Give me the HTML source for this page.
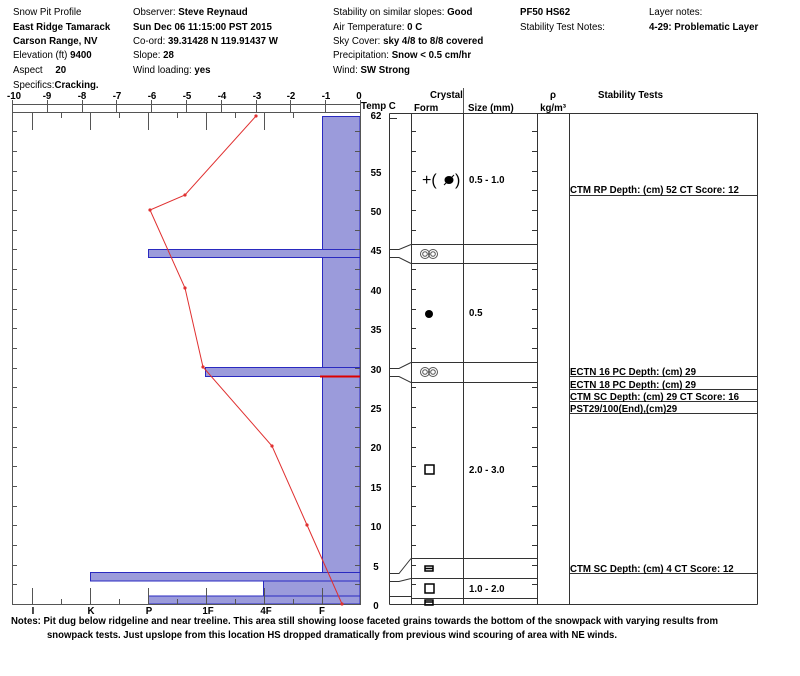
<!DOCTYPE html>
<html><head><meta charset="utf-8"><style>
body{margin:0;background:#fff}
svg{display:block}
text{font-family:"Liberation Sans",Arial,sans-serif;font-size:9.7px;fill:#000}
.b{font-weight:bold}
</style></head><body>
<svg width="800" height="676" viewBox="0 0 800 676" xmlns="http://www.w3.org/2000/svg">
<!-- header -->
<text x="13" y="15">Snow Pit Profile</text>
<text x="13" y="30" class="b">East Ridge Tamarack</text>
<text x="13" y="44" class="b">Carson Range, NV</text>
<text x="13" y="58">Elevation (ft)  <tspan class="b">9400</tspan></text>
<text x="13" y="73">Aspect   <tspan class="b" dx="10">20</tspan></text>
<text x="13" y="88">Specifics:<tspan class="b">Cracking.</tspan></text>
<text x="133" y="15">Observer:  <tspan class="b">Steve Reynaud</tspan></text>
<text x="133" y="30" class="b">Sun Dec 06 11:15:00 PST 2015</text>
<text x="133" y="44">Co-ord:  <tspan class="b">39.31428 N 119.91437 W</tspan></text>
<text x="133" y="58">Slope:  <tspan class="b">28</tspan></text>
<text x="133" y="73">Wind loading:  <tspan class="b">yes</tspan></text>
<text x="333" y="15">Stability on similar slopes:  <tspan class="b">Good</tspan></text>
<text x="333" y="30">Air Temperature:  <tspan class="b">0 C</tspan></text>
<text x="333" y="44">Sky Cover:  <tspan class="b">sky 4/8 to 8/8 covered</tspan></text>
<text x="333" y="58">Precipitation:  <tspan class="b">Snow &lt; 0.5 cm/hr</tspan></text>
<text x="333" y="73">Wind:  <tspan class="b">SW Strong</tspan></text>
<text x="520" y="15" class="b">PF50 HS62</text>
<text x="520" y="30">Stability Test Notes:</text>
<text x="649" y="15">Layer notes:</text>
<text x="649" y="30" class="b">4-29: Problematic Layer</text>

<!-- top temp axis -->
<g stroke="#555" stroke-width="1" fill="none">
<line x1="12" y1="104.5" x2="360" y2="104.5"/>
<line x1="12" y1="112.5" x2="360" y2="112.5"/>
<path d="M12.5 100V113M47.5 100V113M82.5 100V113M116.5 100V113M151.5 100V113M186.5 100V113M221.5 100V113M256.5 100V113M290.5 100V113M325.5 100V113M360.5 100V113"/>
</g>
<g class="b" text-anchor="middle">
<text x="14" y="99" class="b">-10</text><text x="47" y="99" class="b">-9</text><text x="82" y="99" class="b">-8</text><text x="117" y="99" class="b">-7</text><text x="152" y="99" class="b">-6</text><text x="187" y="99" class="b">-5</text><text x="222" y="99" class="b">-4</text><text x="257" y="99" class="b">-3</text><text x="291" y="99" class="b">-2</text><text x="326" y="99" class="b">-1</text><text x="359" y="99" class="b">0</text>
</g>
<text x="361" y="109" class="b">Temp C</text>

<!-- bars -->
<g fill="#9b9bdb" stroke="#2a2ac0" stroke-width="1">
<rect x="322.5" y="116.5" width="37.5" height="456"/>
<rect x="148.5" y="249.5" width="211.5" height="8"/>
<rect x="205.5" y="367.5" width="154.5" height="9"/>
<rect x="90.5" y="572.5" width="269.5" height="8.5"/>
<rect x="263.5" y="581" width="96.5" height="15"/>
<rect x="148.5" y="596" width="211.5" height="8"/>
</g>
<line x1="320" y1="376.5" x2="360" y2="376.5" stroke="#d00" stroke-width="2"/>

<!-- plot frame -->
<g stroke="#555" fill="none">
<path d="M12.5 112.5V604.5H360.5V112.5"/>
<path d="M32.5 113V130M90.5 113V130M148.5 113V130M206.5 113V130M264.5 113V130M61.5 113V118M119.5 113V118M177.5 113V118M235.5 113V118M293.5 113V118"/>
<path d="M32.5 604V588M90.5 604V588M148.5 604V588M206.5 604V588M264.5 604V588M322.5 604V588M61.5 604V599M119.5 604V599M177.5 604V599M235.5 604V599M293.5 604V599"/>
<path d="M12 131.5h5M12 151.5h5M12 171.5h5M12 190.5h5M12 210.5h5M12 230.5h5M12 249.5h5M12 269.5h5M12 289.5h5M12 309.5h5M12 328.5h5M12 348.5h5M12 368.5h5M12 387.5h5M12 407.5h5M12 427.5h5M12 447.5h5M12 466.5h5M12 486.5h5M12 506.5h5M12 525.5h5M12 545.5h5M12 565.5h5M12 584.5h5"/>
<path d="M355 131.5h5M355 151.5h5M355 171.5h5M355 190.5h5M355 210.5h5M355 230.5h5M355 249.5h5M355 269.5h5M355 289.5h5M355 309.5h5M355 328.5h5M355 348.5h5M355 368.5h5M355 387.5h5M355 407.5h5M355 427.5h5M355 447.5h5M355 466.5h5M355 486.5h5M355 506.5h5M355 525.5h5M355 545.5h5M355 565.5h5M355 584.5h5"/>
</g>

<!-- temp profile -->
<polyline fill="none" stroke="#e03030" stroke-width="1" points="256,116 185,195 150,210 185,288 203,367 272,446 307,525 342,604"/>
<g fill="#e03030"><circle cx="256" cy="116" r="1.6"/><circle cx="185" cy="195" r="1.6"/><circle cx="150" cy="210" r="1.6"/><circle cx="185" cy="288" r="1.6"/><circle cx="203" cy="367" r="1.6"/><circle cx="272" cy="446" r="1.6"/><circle cx="307" cy="525" r="1.6"/><circle cx="342" cy="604" r="1.6"/></g>

<!-- hardness labels -->
<g class="b" text-anchor="middle">
<text x="33" y="614" class="b">I</text><text x="91" y="614" class="b">K</text><text x="149" y="614" class="b">P</text><text x="208" y="614" class="b">1F</text><text x="266" y="614" class="b">4F</text><text x="322" y="614" class="b">F</text>
</g>

<!-- depth labels -->
<g text-anchor="middle" class="b">
<text x="376" y="119" class="b">62</text>
<text x="376" y="176" class="b">55</text><text x="376" y="215" class="b">50</text><text x="376" y="254" class="b">45</text><text x="376" y="294" class="b">40</text><text x="376" y="333" class="b">35</text><text x="376" y="373" class="b">30</text><text x="376" y="412" class="b">25</text><text x="376" y="451" class="b">20</text><text x="376" y="491" class="b">15</text><text x="376" y="530" class="b">10</text><text x="376" y="570" class="b">5</text><text x="376" y="609" class="b">0</text>
</g>

<!-- column headers -->
<text x="430" y="98" class="b">Crystal</text>
<line x1="463.5" y1="88" x2="463.5" y2="113" stroke="#555"/>
<text x="414" y="111" class="b">Form</text>
<text x="468" y="111" class="b">Size (mm)</text>
<text x="553" y="98" class="b" text-anchor="middle">ρ</text>
<text x="553" y="111" class="b" text-anchor="middle">kg/m³</text>
<text x="598" y="98" class="b">Stability Tests</text>

<!-- table -->
<g stroke="#333" fill="none" stroke-width="1">
<path d="M389.5 113.5H757.5V604.5M389.5 113.5V604.5M411.5 113.5V604.5M463.5 113.5V604.5M537.5 113.5V604.5M569.5 113.5V604.5M389.5 604.5H757.5"/>
<path d="M411 244.5H537M411 263.5H537M411 362.5H537M411 382.5H537M411 558.5H537M411 578.5H537M411 598.5H537"/>
<path d="M389 249.5H399L411 244.5M389 257.5H399L411 263.5M389 368.5H399L411 362.5M389 376.5H399L411 382.5M389 573.5H399L411 558.5M389 581.5H399L411 578.5M389 596.5H411"/>
<path d="M569 195.5H757M569 376.5H757M569 389.5H757M569 401.5H757M569 413.5H757M569 573.5H757"/>
<path d="M411 131.5h5M411 151.5h5M411 171.5h5M411 190.5h5M411 210.5h5M411 230.5h5M411 269.5h5M411 289.5h5M411 309.5h5M411 328.5h5M411 348.5h5M411 387.5h5M411 407.5h5M411 427.5h5M411 447.5h5M411 466.5h5M411 486.5h5M411 506.5h5M411 525.5h5M411 545.5h5M411 565.5h5M411 584.5h5"/>
<path d="M532 131.5h5M532 151.5h5M532 171.5h5M532 190.5h5M532 210.5h5M532 230.5h5M532 269.5h5M532 289.5h5M532 309.5h5M532 328.5h5M532 348.5h5M532 387.5h5M532 407.5h5M532 427.5h5M532 447.5h5M532 466.5h5M532 486.5h5M532 506.5h5M532 525.5h5M532 545.5h5M532 565.5h5M532 584.5h5"/>
<path d="M389 118.5h8"/>
</g>

<!-- crystal forms -->
<text x="422" y="185" style="font-size:16px">+(</text>
<ellipse cx="449" cy="180" rx="4.5" ry="4" fill="#000"/>
<line x1="444" y1="185" x2="454" y2="175" stroke="#000"/>
<text x="455" y="185" style="font-size:16px">)</text>
<text x="469" y="183" class="b">0.5 - 1.0</text>
<g fill="none" stroke="#555"><circle cx="425" cy="254" r="4.5"/><circle cx="433" cy="254" r="4.5"/><circle cx="425" cy="254" r="2.3"/><circle cx="433" cy="254" r="2.3"/>
<circle cx="425" cy="372" r="4.5"/><circle cx="433" cy="372" r="4.5"/><circle cx="425" cy="372" r="2.3"/><circle cx="433" cy="372" r="2.3"/></g>
<circle cx="429" cy="314" r="4" fill="#000"/>
<text x="469" y="316" class="b">0.5</text>
<rect x="425" y="465" width="9" height="9" fill="none" stroke="#000" stroke-width="1.5"/>
<text x="469" y="473" class="b">2.0 - 3.0</text>
<rect x="425" y="566" width="8" height="5" fill="none" stroke="#000" stroke-width="1.5"/><line x1="425" y1="568.5" x2="433" y2="568.5" stroke="#000" stroke-width="1.5"/>
<rect x="425" y="584" width="9" height="9" fill="none" stroke="#000" stroke-width="1.5"/>
<text x="469" y="592" class="b">1.0 - 2.0</text>
<rect x="425" y="600" width="8" height="5" fill="none" stroke="#000" stroke-width="1.5"/><line x1="425" y1="602" x2="433" y2="602" stroke="#000" stroke-width="1.5"/>

<!-- stability text -->
<g class="b">
<text x="570" y="193" class="b">CTM RP Depth: (cm) 52 CT Score: 12</text>
<text x="570" y="375" class="b">ECTN 16 PC Depth: (cm) 29</text>
<text x="570" y="388" class="b">ECTN 18 PC Depth: (cm) 29</text>
<text x="570" y="400" class="b">CTM SC Depth: (cm) 29 CT Score: 16</text>
<text x="570" y="412" class="b">PST29/100(End),(cm)29</text>
<text x="570" y="572" class="b">CTM SC Depth: (cm) 4 CT Score: 12</text>
</g>

<!-- notes -->
<text x="11" y="624" class="b" textLength="707" lengthAdjust="spacingAndGlyphs">Notes:  Pit dug below ridgeline and near treeline.  This area still showing loose faceted grains towards the bottom of the snowpack with varying results from</text>
<text x="47" y="638" class="b" textLength="570" lengthAdjust="spacingAndGlyphs">snowpack tests.  Just upslope from this location HS dropped dramatically from previous wind scouring of area with NE winds.</text>
</svg>
</body></html>
